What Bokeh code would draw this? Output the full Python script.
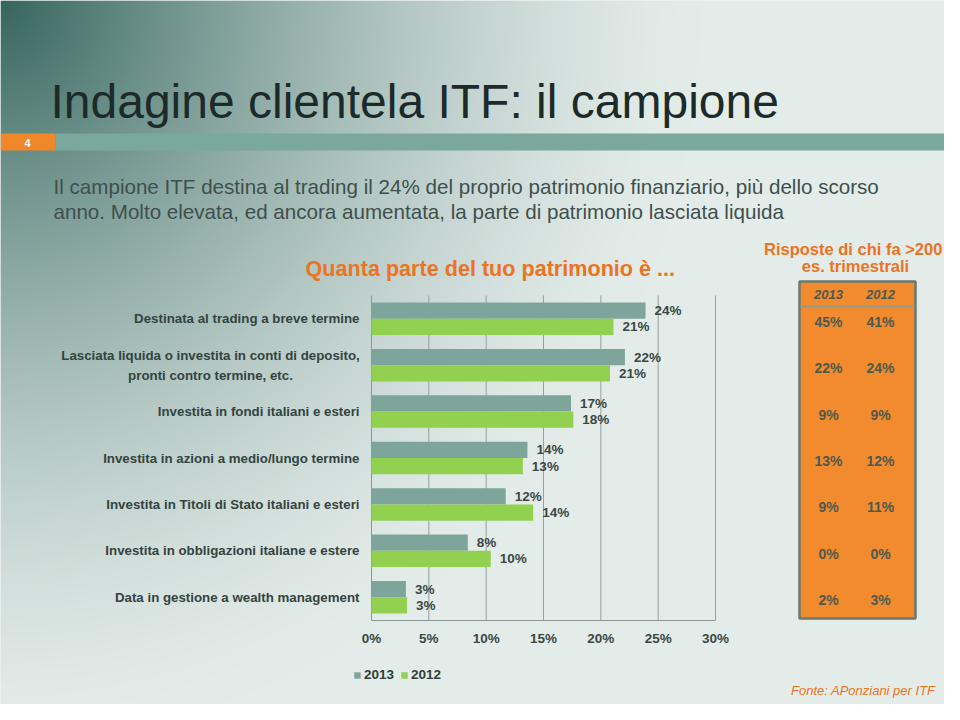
import numpy as np
from bokeh.plotting import figure
from bokeh.models import Range1d, Legend, LegendItem, ColumnDataSource
from bokeh.core.properties import value
from bokeh.embed import file_html
from bokeh.resources import INLINE

# ---------------- data ----------------
categories = [
    "Destinata al trading a breve termine",
    "Lasciata liquida o investita in conti di deposito,\npronti contro termine, etc.",
    "Investita in fondi italiani e esteri",
    "Investita in azioni a medio/lungo termine",
    "Investita in Titoli di Stato italiani e esteri",
    "Investita in obbligazioni italiane e estere",
    "Data in gestione a wealth management",
]
share_2013 = [23.9, 22.1, 17.4, 13.6, 11.7, 8.4, 3.0]
share_2012 = [21.1, 20.8, 17.6, 13.2, 14.1, 10.4, 3.1]
series = ["2013", "2012"]
x_ticks = [0, 5, 10, 15, 20, 25, 30]
table_2013 = [45, 22, 9, 13, 9, 0, 2]
table_2012 = [41, 24, 9, 12, 11, 0, 3]

title_text = "Indagine clientela ITF: il campione"
body_lines = [
    "Il campione ITF destina al trading il 24% del proprio patrimonio finanziario, più dello scorso",
    "anno. Molto elevata, ed ancora aumentata, la parte di patrimonio lasciata liquida",
]
chart_title = "Quanta parte del tuo patrimonio è ..."
box_title = ["Risposte  di chi fa >200", "es. trimestrali"]
source_note = "Fonte: APonziani per ITF"
slide_number = "4"

# ---------------- styles ----------------
FONT_NAME = "Liberation Sans"
FONT = value(FONT_NAME)
C13 = "#7ea59b"
C12 = "#92d050"
ORANGE = "#ec7322"
DARK = "#33443f"
WIDTH, HEIGHT = 944, 704


def Y(py):
    return HEIGHT - py


p = figure(width=WIDTH, height=HEIGHT, x_range=Range1d(0, WIDTH), y_range=Range1d(0, HEIGHT),
           output_backend="svg", toolbar_location=None, min_border=0,
           x_axis_type=None, y_axis_type=None)
p.outline_line_color = None
p.background_fill_color = "#dfe9e6"
p.border_fill_color = "#dfe9e6"

# chart scales: 0% at x=371px, 30% at 715px ; 7 groups between y=295 and 620
px_per = 344 / 30.0
gh = 325 / 7.0
p.extra_x_ranges = {"pct": Range1d((0 - 371) / px_per, (WIDTH - 371) / px_per)}
p.extra_y_ranges = {"cat": Range1d((HEIGHT - 295) / gh - 0.5, (0 - 295) / gh - 0.5)}

# ---------------- background gradient ----------------
step = 2
W, H = WIDTH // step, HEIGHT // step
xs = (np.arange(W) + 0.5) * step
ys = HEIGHT - (np.arange(H) + 0.5) * step  # row 0 = bottom
XX, YY = np.meshgrid(xs, ys)
d = np.sqrt((XX / 700.0) ** 2 + (YY / 740.0) ** 2)
t = np.clip(1 - d, 0, 1) ** 1.5
dark = np.array([54, 102, 95])
light = np.array([227, 236, 233])
img = np.empty((H, W), dtype=np.uint32)
view = img.view(dtype=np.uint8).reshape((H, W, 4))
for k in range(3):
    view[:, :, k] = (light[k] * (1 - t) + dark[k] * t).astype(np.uint8)
view[:, :, 3] = 255
p.image_rgba(image=[img], x=0, y=0, dw=WIDTH, dh=HEIGHT)

# ---------------- header ----------------
p.text(x=[50], y=[Y(101)], text=[title_text], text_font=FONT, text_font_size="48px",
       text_color="#1c2b29", text_baseline="alphabetic", text_align="left")
p.quad(left=[55], right=[WIDTH], bottom=[Y(150)], top=[Y(133)], fill_color="#7aa89d", line_color=None)
p.quad(left=[0], right=[55], bottom=[Y(150)], top=[Y(133)], fill_color="#f0882a", line_color=None)
p.text(x=[27], y=[Y(142)], text=[slide_number], text_font=FONT, text_font_size="11px",
       text_font_style="bold", text_color="white", text_align="center", text_baseline="middle")
p.text(x=[53, 53], y=[Y(186), Y(211)], text=body_lines, text_font=FONT, text_font_size="20.6px",
       text_color="#3e504c", text_baseline="middle", text_align="left")

# ---------------- chart ----------------
pos = np.arange(len(categories))
src = ColumnDataSource(dict(
    pos13=pos - 0.175, pos12=pos + 0.175,
    v13=share_2013, v12=share_2012,
    l13=[f"{round(v)}%" for v in share_2013],
    l12=[f"{round(v)}%" for v in share_2012],
    cat=categories, pos=pos,
    cat_align=["center" if "\n" in c else "right" for c in categories],
    cat_off=[-161 if "\n" in c else -12 for c in categories],
    t13=[f"{v}%" for v in table_2013], t12=[f"{v}%" for v in table_2012],
))

p.text(x=[305], y=[Y(268)], text=[chart_title], text_font=FONT, text_font_size="21.6px",
       text_font_style="bold", text_color=ORANGE, text_baseline="middle", text_align="left")

n = len(categories)
p.segment(x0=x_ticks[1:], x1=x_ticks[1:], y0=[-0.5] * 6, y1=[n - 0.5] * 6,
          x_range_name="pct", y_range_name="cat", line_color="#93a29f", line_width=1)
p.segment(x0=[0, 0], x1=[0, x_ticks[-1]], y0=[-0.5, n - 0.5], y1=[n - 0.5, n - 0.5],
          x_range_name="pct", y_range_name="cat", line_color="#8a9895", line_width=1)

r13 = p.hbar(y="pos13", left=0, right="v13", height=0.35, source=src, fill_color=C13,
             line_color=None, x_range_name="pct", y_range_name="cat")
r12 = p.hbar(y="pos12", left=0, right="v12", height=0.35, source=src, fill_color=C12,
             line_color=None, x_range_name="pct", y_range_name="cat")

lab = dict(text_font=FONT, text_font_size="13.5px", text_font_style="bold", text_color="#3a4845",
           text_baseline="middle", text_align="left", x_offset=9,
           x_range_name="pct", y_range_name="cat", source=src)
p.text(x="v13", y="pos13", text="l13", **lab)
p.text(x="v12", y="pos12", text="l12", **lab)

p.text(x=x_ticks, y=[n - 0.5] * len(x_ticks), text=[f"{t}%" for t in x_ticks],
       text_font=FONT, text_font_size="13.5px", text_font_style="bold", text_color="#3a4845",
       text_baseline="top", text_align="center", y_offset=10,
       x_range_name="pct", y_range_name="cat")

p.text(x=0, y="pos", text="cat", source=src, text_font=FONT, text_font_size="13.3px",
       text_font_style="bold", text_color=DARK, text_baseline="middle", text_align="cat_align",
       x_offset="cat_off", text_line_height=1.35, x_range_name="pct", y_range_name="cat")

legend = Legend(items=[LegendItem(label=series[0], renderers=[r13]),
                       LegendItem(label=series[1], renderers=[r12])],
                location=(353, 22), orientation="horizontal",
                glyph_width=8, glyph_height=8, label_standoff=3, spacing=6,
                padding=0, margin=0, background_fill_alpha=0, border_line_color=None,
                label_text_font=FONT_NAME, label_text_font_size="13.5px", label_text_font_style="bold",
                label_text_color="#2f3d3a")
p.add_layout(legend)

# ---------------- side table ----------------
p.text(x=[855, 855], y=[Y(248), Y(265)], text=box_title, text_font=FONT, text_font_size="16.5px",
       text_font_style="bold", text_color=ORANGE, text_align="center", text_baseline="middle")
p.quad(left=[799], right=[915], top=[Y(281)], bottom=[Y(618)], fill_color="#f28a2e",
       line_color="#6a7a6e", line_width=2.5)
p.segment(x0=[800], x1=[914], y0=[Y(306)], y1=[Y(306)], line_color="#8f9d8f", line_width=2)
p.text(x=[828, 880], y=[Y(294), Y(294)], text=series, text_font=FONT, text_font_size="13px",
       text_font_style="bold italic", text_color="#4c5a52", text_align="center",
       text_baseline="middle")
tab = dict(text_font=FONT, text_font_size="14px", text_font_style="bold", text_color="#4d5a50",
           text_align="center", text_baseline="middle", y_offset=3, y_range_name="cat", source=src)
p.text(x=828, y="pos", text="t13", **tab)
p.text(x=880, y="pos", text="t12", **tab)

p.text(x=[935], y=[Y(690)], text=[source_note], text_font=FONT, text_font_size="13px",
       text_font_style="italic", text_color=ORANGE, text_align="right", text_baseline="middle")

open("out.html", "w").write(file_html(p, INLINE))
